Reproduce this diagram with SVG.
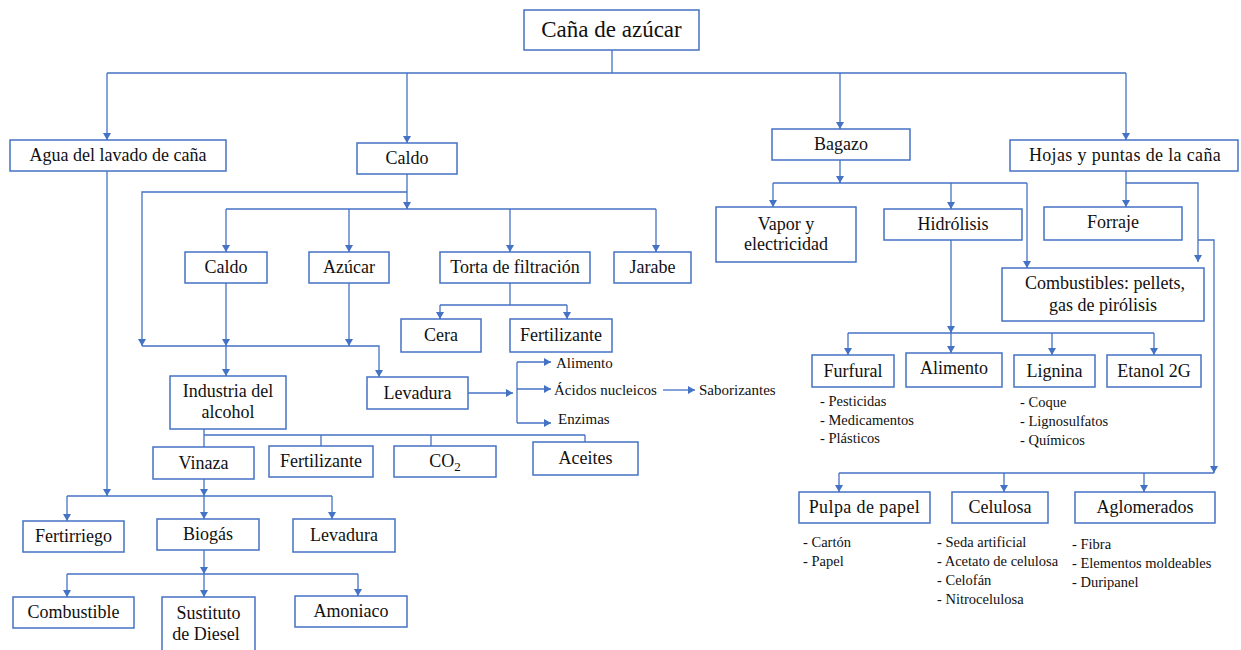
<svg xmlns="http://www.w3.org/2000/svg" width="1241" height="650" viewBox="0 0 1241 650">
  <defs>
    <marker id="ah" viewBox="0 0 7 8" refX="7" refY="4" markerWidth="7" markerHeight="8" orient="auto" markerUnits="userSpaceOnUse">
      <path d="M0,0 L7,4 L0,8 z" fill="#4472C4"/>
    </marker>
    <style>
      .box { fill: #ffffff; stroke: #4472C4; stroke-width: 1.5; }
      .t { font-family: "Liberation Serif", "Times New Roman", serif; font-size: 18px; fill: #111; text-anchor: middle; }
      .s { font-family: "Liberation Serif", "Times New Roman", serif; font-size: 14.5px; fill: #111; }
      .b { font-family: "Liberation Serif", "Times New Roman", serif; font-size: 15px; fill: #111; }
      .ln { fill: none; stroke: #4472C4; stroke-width: 1.3; }
      .ar { fill: none; stroke: #4472C4; stroke-width: 1.3; marker-end: url(#ah); }
    </style>
  </defs>
  <rect width="1241" height="650" fill="#ffffff"/>

  <!-- connectors -->
  <g id="connectors">
    <path class="ln" d="M612,50 V73 M107,73 H1126"/>
    <path class="ar" d="M107,73 V140"/>
    <path class="ar" d="M407,73 V143"/>
    <path class="ar" d="M840,73 V129"/>
    <path class="ar" d="M1126,73 V140"/>

    <!-- Caldo -->
    <path class="ar" d="M407,174 V209"/>
    <path class="ln" d="M226,209 H656"/>
    <path class="ar" d="M226,209 V252"/>
    <path class="ar" d="M349,209 V252"/>
    <path class="ar" d="M510,209 V252"/>
    <path class="ar" d="M656,209 V252"/>
    <path class="ar" d="M407,192 H142 V346"/>
    <path class="ar" d="M142,346 H379 V377"/>
    <path class="ar" d="M226,283 V346"/>
    <path class="ar" d="M226,346 V376"/>
    <path class="ar" d="M349,283 V346"/>

    <!-- Torta de filtración -->
    <path class="ln" d="M510,283 V305 M440,305 H567"/>
    <path class="ar" d="M440,305 V319"/>
    <path class="ar" d="M567,305 V319"/>

    <!-- Levadura -->
    <path class="ar" d="M468,393 H513"/>
    <path class="ln" d="M517,362 V423"/>
    <path class="ar" d="M517,362 H551"/>
    <path class="ar" d="M517,389 H551"/>
    <path class="ar" d="M517,423 H551"/>
    <path class="ar" d="M663,390 H695"/>

    <!-- Industria del alcohol -->
    <path class="ln" d="M204,429 V447 M204,435 H585 M321,435 V446 M431,435 V446 M585,435 V442"/>

    <!-- Vinaza -->
    <path class="ar" d="M204,479 V496"/>
    <path class="ln" d="M67,496 H332"/>
    <path class="ar" d="M67,496 V521"/>
    <path class="ar" d="M204,496 V519"/>
    <path class="ar" d="M332,496 V519"/>
    <path class="ar" d="M107,171 V496"/>

    <!-- Biogás -->
    <path class="ar" d="M204,550 V574"/>
    <path class="ln" d="M67,574 H358"/>
    <path class="ar" d="M67,574 V597"/>
    <path class="ar" d="M204,574 V597"/>
    <path class="ar" d="M358,574 V596"/>

    <!-- Bagazo -->
    <path class="ar" d="M840,160 V183"/>
    <path class="ln" d="M773,183 H1027"/>
    <path class="ar" d="M773,183 V207"/>
    <path class="ar" d="M951,183 V209"/>
    <path class="ar" d="M1027,183 V268"/>

    <!-- Hidrólisis -->
    <path class="ar" d="M951,240 V333"/>
    <path class="ln" d="M848,333 H1154"/>
    <path class="ar" d="M848,333 V355"/>
    <path class="ar" d="M951,333 V353"/>
    <path class="ar" d="M1052,333 V355"/>
    <path class="ar" d="M1154,333 V355"/>

    <!-- Hojas y puntas -->
    <path class="ar" d="M1126,171 V207"/>
    <path class="ar" d="M1126,183 H1198 V262"/>
    <path class="ar" d="M1198,240 H1214 V473"/>
    <path class="ln" d="M839,473 H1214"/>
    <path class="ar" d="M839,473 V492"/>
    <path class="ar" d="M1004,473 V492"/>
    <path class="ar" d="M1144,473 V492"/>
  </g>

  <!-- nodes -->
  <g id="n-cana"><rect class="box" x="524" y="10" width="175" height="40"/><text class="t" x="611.5" y="37" style="font-size:23px">Caña de azúcar</text></g>
  <g id="n-agua"><rect class="box" x="10" y="140" width="216" height="31"/><text class="t" x="118" y="161">Agua del lavado de caña</text></g>
  <g id="n-caldo"><rect class="box" x="357" y="143" width="100" height="31"/><text class="t" x="407" y="164">Caldo</text></g>
  <g id="n-bagazo"><rect class="box" x="772" y="129" width="138" height="31"/><text class="t" x="841" y="150">Bagazo</text></g>
  <g id="n-hojas"><rect class="box" x="1010" y="140" width="228" height="31"/><text class="t" x="1125" y="161" style="letter-spacing:0.35px">Hojas y puntas de la caña</text></g>

  <g id="n-caldo2"><rect class="box" x="185" y="252" width="82" height="31"/><text class="t" x="226" y="273">Caldo</text></g>
  <g id="n-azucar"><rect class="box" x="309" y="252" width="80" height="31"/><text class="t" x="349" y="273">Azúcar</text></g>
  <g id="n-torta"><rect class="box" x="440" y="252" width="150" height="31"/><text class="t" x="515" y="273">Torta de filtración</text></g>
  <g id="n-jarabe"><rect class="box" x="614" y="252" width="77" height="31"/><text class="t" x="652.5" y="273">Jarabe</text></g>
  <g id="n-cera"><rect class="box" x="401" y="319" width="80" height="33"/><text class="t" x="441" y="341">Cera</text></g>
  <g id="n-fert1"><rect class="box" x="510" y="319" width="102" height="33"/><text class="t" x="561" y="341">Fertilizante</text></g>

  <g id="n-industria"><rect class="box" x="170" y="376" width="116" height="53"/><text class="t" x="228" y="397">Industria del</text><text class="t" x="228" y="418">alcohol</text></g>
  <g id="n-levadura"><rect class="box" x="367" y="377" width="101" height="32"/><text class="t" x="417.5" y="399">Levadura</text></g>

  <g id="n-levadura-usos">
    <text class="b" x="556" y="368">Alimento</text>
    <text class="b" x="554" y="395">Ácidos nucleicos</text>
    <text class="b" x="699" y="395">Saborizantes</text>
    <text class="b" x="558" y="424">Enzimas</text>
  </g>

  <g id="n-vinaza"><rect class="box" x="153" y="447" width="101" height="32"/><text class="t" x="203.5" y="469">Vinaza</text></g>
  <g id="n-fert2"><rect class="box" x="269" y="446" width="104" height="31"/><text class="t" x="321" y="467">Fertilizante</text></g>
  <g id="n-co2"><rect class="box" x="394" y="446" width="102" height="31"/><text class="t" x="445" y="467">CO<tspan style="font-size:13px" dy="4">2</tspan></text></g>
  <g id="n-aceites"><rect class="box" x="533" y="442" width="105" height="33"/><text class="t" x="585.5" y="464">Aceites</text></g>

  <g id="n-fertirriego"><rect class="box" x="23" y="521" width="101" height="31"/><text class="t" x="73.5" y="542">Fertirriego</text></g>
  <g id="n-biogas"><rect class="box" x="157" y="519" width="102" height="31"/><text class="t" x="208" y="540">Biogás</text></g>
  <g id="n-levadura2"><rect class="box" x="293" y="519" width="102" height="33"/><text class="t" x="344" y="541">Levadura</text></g>

  <g id="n-combustible"><rect class="box" x="13" y="597" width="121" height="31"/><text class="t" x="73.5" y="618">Combustible</text></g>
  <g id="n-sustituto"><rect class="box" x="162" y="597" width="93" height="62"/><text class="t" x="208.5" y="619">Sustituto</text><text class="t" x="206" y="640">de Diesel</text></g>
  <g id="n-amoniaco"><rect class="box" x="295" y="596" width="112" height="31"/><text class="t" x="351" y="617">Amoniaco</text></g>

  <g id="n-vapor"><rect class="box" x="716" y="207" width="140" height="55"/><text class="t" x="786" y="230">Vapor y</text><text class="t" x="786" y="250">electricidad</text></g>
  <g id="n-hidrolisis"><rect class="box" x="884" y="209" width="138" height="31"/><text class="t" x="953" y="230">Hidrólisis</text></g>
  <g id="n-forraje"><rect class="box" x="1044" y="207" width="138" height="33"/><text class="t" x="1113" y="228">Forraje</text></g>
  <g id="n-combustibles"><rect class="box" x="1002" y="268" width="202" height="53"/><text class="t" x="1105" y="289">Combustibles: pellets,</text><text class="t" x="1103" y="311">gas de pirólisis</text></g>

  <g id="n-furfural"><rect class="box" x="812" y="355" width="82" height="32"/><text class="t" x="853" y="377">Furfural</text>
    <text class="s" x="820" y="406">- Pesticidas</text><text class="s" x="820" y="425">- Medicamentos</text><text class="s" x="820" y="443">- Plásticos</text></g>
  <g id="n-alimento"><rect class="box" x="906" y="353" width="96" height="34"/><text class="t" x="954" y="374">Alimento</text></g>
  <g id="n-lignina"><rect class="box" x="1014" y="355" width="81" height="32"/><text class="t" x="1054.5" y="377">Lignina</text>
    <text class="s" x="1020" y="407">- Coque</text><text class="s" x="1020" y="426">- Lignosulfatos</text><text class="s" x="1020" y="445">- Químicos</text></g>
  <g id="n-etanol"><rect class="box" x="1107" y="355" width="94" height="32"/><text class="t" x="1154" y="377">Etanol 2G</text></g>

  <g id="n-pulpa"><rect class="box" x="799" y="492" width="131" height="31"/><text class="t" x="864.5" y="513" style="letter-spacing:0.4px">Pulpa de papel</text>
    <text class="s" x="803" y="547">- Cartón</text><text class="s" x="803" y="566">- Papel</text></g>
  <g id="n-celulosa"><rect class="box" x="952" y="492" width="96" height="31"/><text class="t" x="1000" y="513">Celulosa</text>
    <text class="s" x="937" y="547">- Seda artificial</text><text class="s" x="937" y="566">- Acetato de celulosa</text><text class="s" x="937" y="585">- Celofán</text><text class="s" x="937" y="604">- Nitrocelulosa</text></g>
  <g id="n-aglomerados"><rect class="box" x="1075" y="492" width="140" height="31"/><text class="t" x="1145" y="513">Aglomerados</text>
    <text class="s" x="1072" y="549">- Fibra</text><text class="s" x="1072" y="568">- Elementos moldeables</text><text class="s" x="1072" y="587">- Duripanel</text></g>
</svg>
